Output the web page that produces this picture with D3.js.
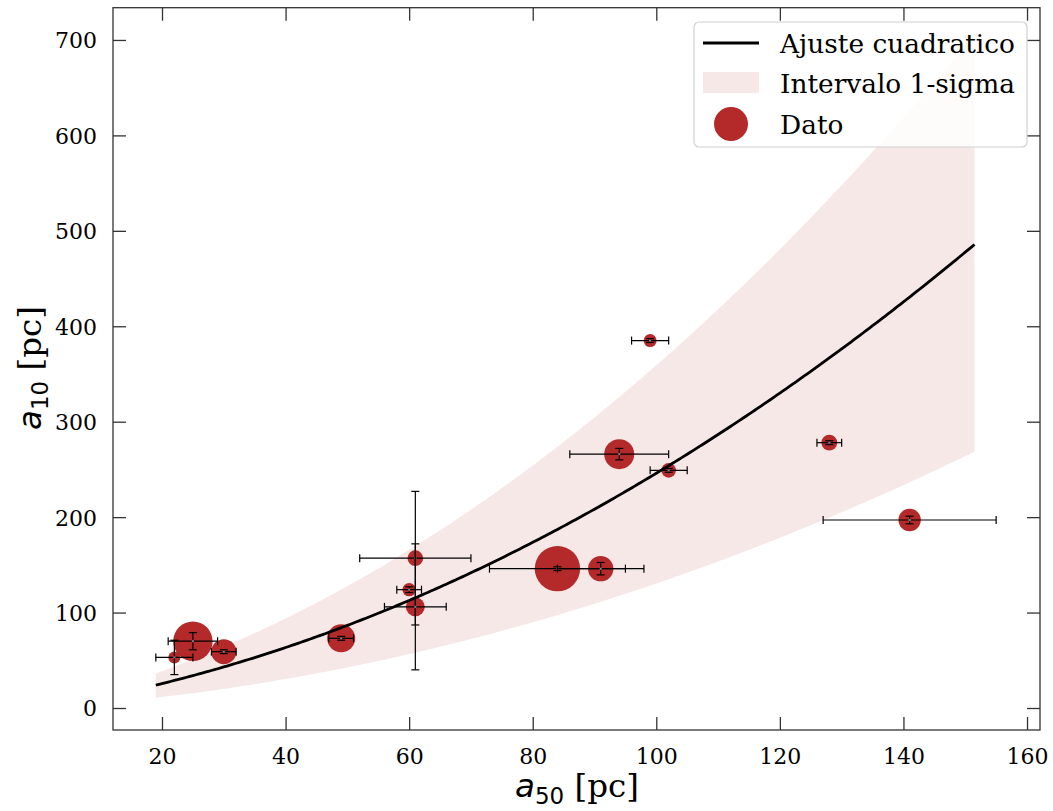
<!DOCTYPE html>
<html>
<head>
<meta charset="utf-8">
<script src="https://cdn.jsdelivr.net/npm/d3@7"></script>
<style>
  body { margin: 0; background: #fff; }
  svg { display: block; }
</style>
</head>
<body>
<svg id="chart" width="1053" height="811"></svg>
<script>
// Measured half-light radii per object
const a50    = [22, 25, 30, 49, 60, 61, 61, 84, 91, 94, 99, 102, 128, 141];
const a10    = [53, 70, 59, 73, 124, 157, 106, 146, 146, 266, 385, 249, 278, 197];
const a50Err = [3, 4, 2, 2, 2, 9, 5, 11, 7, 8, 3, 3, 2, 14];
const a10Err = [18, 9, 2, 2, 3, 70, 66, 2, 6.5, 6, 2, 2, 2, 4];
// Marker weight (area units)
const weight = [36, 388, 156, 196, 45, 61, 90, 515, 161, 225, 42, 53, 62, 125];

// Quadratic fit a10 = c2*x^2 + c1*x + c0 and its 1-sigma envelope
const fitCoef   = [0.01444, 1.0224, -0.64];
const upperCoef = [0.02075, 1.516, 0];
const lowerCoef = [0.00909, 0.3957, 0];
const fitRange  = [19, 151.5];

const xTicks = [20, 40, 60, 80, 100, 120, 140, 160];
const yTicks = [0, 100, 200, 300, 400, 500, 600, 700];

const legendLabels = ["Ajuste cuadratico", "Intervalo 1-sigma", "Dato"];

const RED = "#b22222";
const SERIF = "'DejaVu Serif', serif";
const SANS = "'DejaVu Sans', sans-serif";

const svg = d3.select("#chart");
const plot = { left: 113, right: 1040, top: 7.7, bottom: 730 };

const x = d3.scaleLinear().domain([12.07, 162.1]).range([plot.left, plot.right]);
const y = d3.scaleLinear().domain([-23.05, 733.8]).range([plot.bottom, plot.top]);
const r = d3.scaleSqrt().domain([0, 515]).range([0, 22.7]);

const poly = (c, v) => c[0] * v * v + c[1] * v + c[2];
const xs = d3.range(fitRange[0], fitRange[1] + 0.001, 0.5);

// 1-sigma band
svg.append("path")
  .datum(xs)
  .attr("fill", RED)
  .attr("fill-opacity", 0.1)
  .attr("d", d3.area()
    .x(d => x(d))
    .y0(d => y(poly(lowerCoef, d)))
    .y1(d => y(poly(upperCoef, d))));

// data markers
const pts = a50.map((v, i) => ({ x: v, y: a10[i], ex: a50Err[i], ey: a10Err[i], w: weight[i] }));
svg.append("g").selectAll("circle")
  .data(pts)
  .join("circle")
  .attr("cx", d => x(d.x))
  .attr("cy", d => y(d.y))
  .attr("r", d => r(d.w))
  .attr("fill", RED)
  .attr("fill-opacity", 0.97);

// fitted curve
svg.append("path")
  .datum(xs)
  .attr("fill", "none")
  .attr("stroke", "#000")
  .attr("stroke-width", 2.8)
  .attr("d", d3.line().x(d => x(d)).y(d => y(poly(fitCoef, d))));

// error bars
const eb = svg.append("g").attr("stroke", "#000").attr("stroke-width", 1.2).attr("fill", "none");
const cap = 4;
pts.forEach(d => {
  const cx = x(d.x), cy = y(d.y);
  const x0 = x(d.x - d.ex), x1 = x(d.x + d.ex);
  const y0 = y(d.y - d.ey), y1 = y(d.y + d.ey);
  eb.append("line").attr("x1", x0).attr("x2", x1).attr("y1", cy).attr("y2", cy);
  eb.append("line").attr("x1", x0).attr("x2", x0).attr("y1", cy - cap).attr("y2", cy + cap);
  eb.append("line").attr("x1", x1).attr("x2", x1).attr("y1", cy - cap).attr("y2", cy + cap);
  eb.append("line").attr("x1", cx).attr("x2", cx).attr("y1", y0).attr("y2", y1);
  eb.append("line").attr("x1", cx - cap).attr("x2", cx + cap).attr("y1", y0).attr("y2", y0);
  eb.append("line").attr("x1", cx - cap).attr("x2", cx + cap).attr("y1", y1).attr("y2", y1);
  eb.append("rect").attr("x", cx - 1).attr("y", cy - 1).attr("width", 2).attr("height", 2)
    .attr("fill", "#888").attr("stroke", "none");
});

// axes: ticks pointing inward on all four sides
const TL = 13;
const axisColor = "#333";
const fmt = d3.format("d");

const gB = svg.append("g").attr("transform", `translate(0,${plot.bottom})`)
  .call(d3.axisBottom(x).tickValues(xTicks).tickSizeInner(-TL).tickSizeOuter(0).tickPadding(18).tickFormat(fmt));
const gT = svg.append("g").attr("transform", `translate(0,${plot.top})`)
  .call(d3.axisTop(x).tickValues(xTicks).tickSizeInner(-TL).tickSizeOuter(0).tickFormat(""));
const gL = svg.append("g").attr("transform", `translate(${plot.left},0)`)
  .call(d3.axisLeft(y).tickValues(yTicks).tickSizeInner(-TL).tickSizeOuter(0).tickPadding(16).tickFormat(fmt));
const gR = svg.append("g").attr("transform", `translate(${plot.right},0)`)
  .call(d3.axisRight(y).tickValues(yTicks).tickSizeInner(-TL).tickSizeOuter(0).tickFormat(""));

[gB, gT, gL, gR].forEach(g => {
  g.select(".domain").remove();
  g.selectAll(".tick line").attr("stroke", axisColor).attr("stroke-width", 1.3);
  g.selectAll(".tick text").attr("fill", "#000").style("font-family", SERIF).style("font-size", "22px");
});
gB.selectAll(".tick text").attr("dy", "0.71em");
gL.selectAll(".tick text").attr("dy", "0.36em");

svg.append("rect")
  .attr("x", plot.left).attr("y", plot.top)
  .attr("width", plot.right - plot.left).attr("height", plot.bottom - plot.top)
  .attr("fill", "none").attr("stroke", axisColor).attr("stroke-width", 1.3);

// axis titles
function mathLabel(g, sub) {
  g.append("tspan").style("font-family", SANS).style("font-style", "oblique").text("a");
  g.append("tspan").style("font-family", SANS).style("font-size", "23px").attr("dy", 7).text(sub);
  g.append("tspan").style("font-family", SERIF).attr("dy", -7).text("\u00a0[pc]");
}
const xl = svg.append("text")
  .attr("x", 577).attr("y", 797)
  .attr("text-anchor", "middle")
  .style("font-size", "32.5px").attr("fill", "#000");
mathLabel(xl, "50");

const yl = svg.append("text")
  .attr("transform", "translate(41,368) rotate(-90)")
  .attr("text-anchor", "middle")
  .style("font-size", "32.5px").attr("fill", "#000");
mathLabel(yl, "10");

// legend
const lg = svg.append("g").attr("transform", "translate(694,22)");
lg.append("rect")
  .attr("width", 333).attr("height", 125).attr("rx", 5)
  .attr("fill", "#fff").attr("fill-opacity", 0.8)
  .attr("stroke", "#d0d0d0").attr("stroke-width", 1.2);
lg.append("line").attr("x1", 9).attr("x2", 65).attr("y1", 21).attr("y2", 21)
  .attr("stroke", "#000").attr("stroke-width", 2.8);
lg.append("rect").attr("x", 9).attr("y", 50).attr("width", 56).attr("height", 21)
  .attr("fill", RED).attr("fill-opacity", 0.1);
lg.append("circle").attr("cx", 37).attr("cy", 102).attr("r", 17).attr("fill", RED).attr("fill-opacity", 0.97);
lg.selectAll("text.lab")
  .data(legendLabels)
  .join("text")
  .attr("class", "lab")
  .attr("x", 86)
  .attr("y", (d, i) => 21 + i * 40.5)
  .attr("dy", "0.36em")
  .style("font-family", SERIF).style("font-size", "26.4px").attr("fill", "#000")
  .text(d => d);
</script>
</body>
</html>
